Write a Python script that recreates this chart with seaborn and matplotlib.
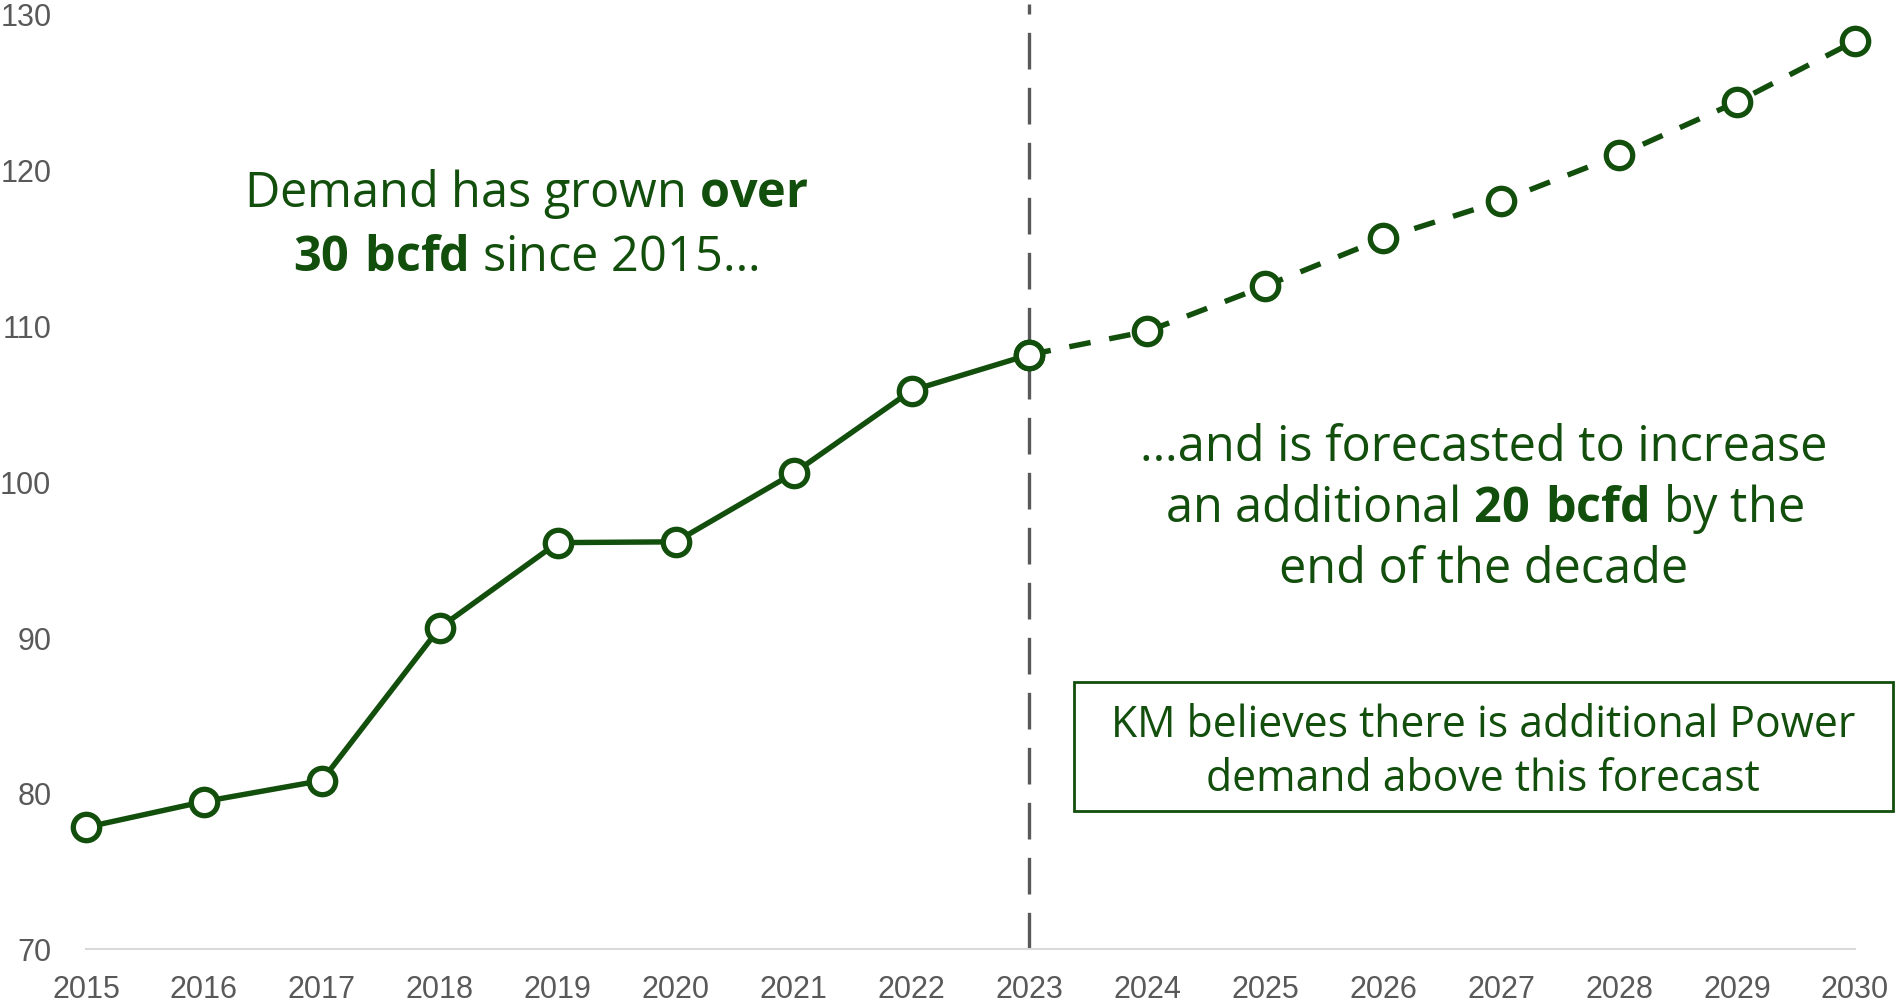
import matplotlib
matplotlib.use("Agg")
import matplotlib.pyplot as plt
import pandas as pd
import seaborn as sns
from matplotlib.patches import Rectangle

years_hist = [2015, 2016, 2017, 2018, 2019, 2020, 2021, 2022, 2023]
demand_hist = [77.8, 79.45, 80.8, 90.6, 96.05, 96.1, 100.5, 105.8, 108.1]
years_fcst = [2023, 2024, 2025, 2026, 2027, 2028, 2029, 2030]
demand_fcst = [108.1, 109.6, 112.5, 115.55, 117.95, 120.9, 124.3, 128.2]
y_ticks = [70, 80, 90, 100, 110, 120, 130]
split_year = 2023

GREEN = "#124e0c"
GREY = "#595959"
W, H = 1895, 1003

sns.set_theme(style="white")
plt.rcParams["font.family"] = ["Open Sans", "DejaVu Sans"]
plt.rcParams["mathtext.fontset"] = "custom"
plt.rcParams["mathtext.rm"] = "Open Sans"
plt.rcParams["mathtext.bf"] = "Open Sans:bold"

hist = pd.DataFrame({"year": years_hist, "demand": demand_hist})
fcst = pd.DataFrame({"year": years_fcst, "demand": demand_fcst})

fig = plt.figure(figsize=(W / 100, H / 100), dpi=100)
ax = fig.add_axes([86 / W, 1 - 950 / H, (1855 - 86) / W, (950 - 14) / H])

ax.axvline(split_year, ymin=0, ymax=1.0096, color=GREY, linewidth=2.4,
           linestyle=(0, (11, 5.5)), clip_on=False, zorder=1)

marker_kw = dict(marker="o", markersize=19, markerfacecolor="white",
                 markeredgecolor=GREEN, markeredgewidth=3.8, clip_on=False)
sns.lineplot(data=hist, x="year", y="demand", ax=ax, color=GREEN,
             linewidth=3.9, zorder=3, **marker_kw)
sns.lineplot(data=fcst, x="year", y="demand", ax=ax, color=GREEN,
             linewidth=3.9, linestyle=(0, (4, 3.5)), zorder=3, **marker_kw)

ax.set_xlim(2015, 2030)
ax.set_ylim(70, 130)
ax.set_xticks(years_hist + years_fcst[1:])
ax.set_yticks(y_ticks)
ax.set_xlabel("")
ax.set_ylabel("")
for lab in ax.get_xticklabels() + ax.get_yticklabels():
    lab.set_fontfamily(["Liberation Sans", "DejaVu Sans"])
ax.tick_params(axis="x", length=0, pad=18, labelsize=22, colors=GREY)
ax.tick_params(axis="y", length=0, pad=25, labelsize=22, colors=GREY)
for side in ["left", "right", "top"]:
    ax.spines[side].set_visible(False)
ax.spines["bottom"].set_color("#d9d9d9")
ax.spines["bottom"].set_linewidth(1.5)
ax.grid(False)


def ftext(x, y, s, size):
    fig.text(x / W, 1 - y / H, s, ha="center", va="baseline",
             fontsize=size, color=GREEN)


ftext(526, 207, r"Demand has grown $\mathbf{over}$", 35)
ftext(526, 271, r"$\mathbf{30\ bcfd}$ since 2015…", 35)
ftext(1484, 461, "…and is forecasted to increase", 35)
ftext(1484, 522, r"an additional $\mathbf{20\ bcfd}$ by the", 35)
ftext(1484, 583, "end of the decade", 35)

fig.patches.append(Rectangle((1074 / W, 1 - 812 / H), (1893 - 1074) / W,
                             (812 - 683) / H, transform=fig.transFigure,
                             facecolor="white", edgecolor=GREEN, linewidth=2))
ftext(1483, 737, "KM believes there is additional Power", 30.8)
ftext(1483, 791, "demand above this forecast", 30.8)

fig.savefig("out.png", dpi=100)
